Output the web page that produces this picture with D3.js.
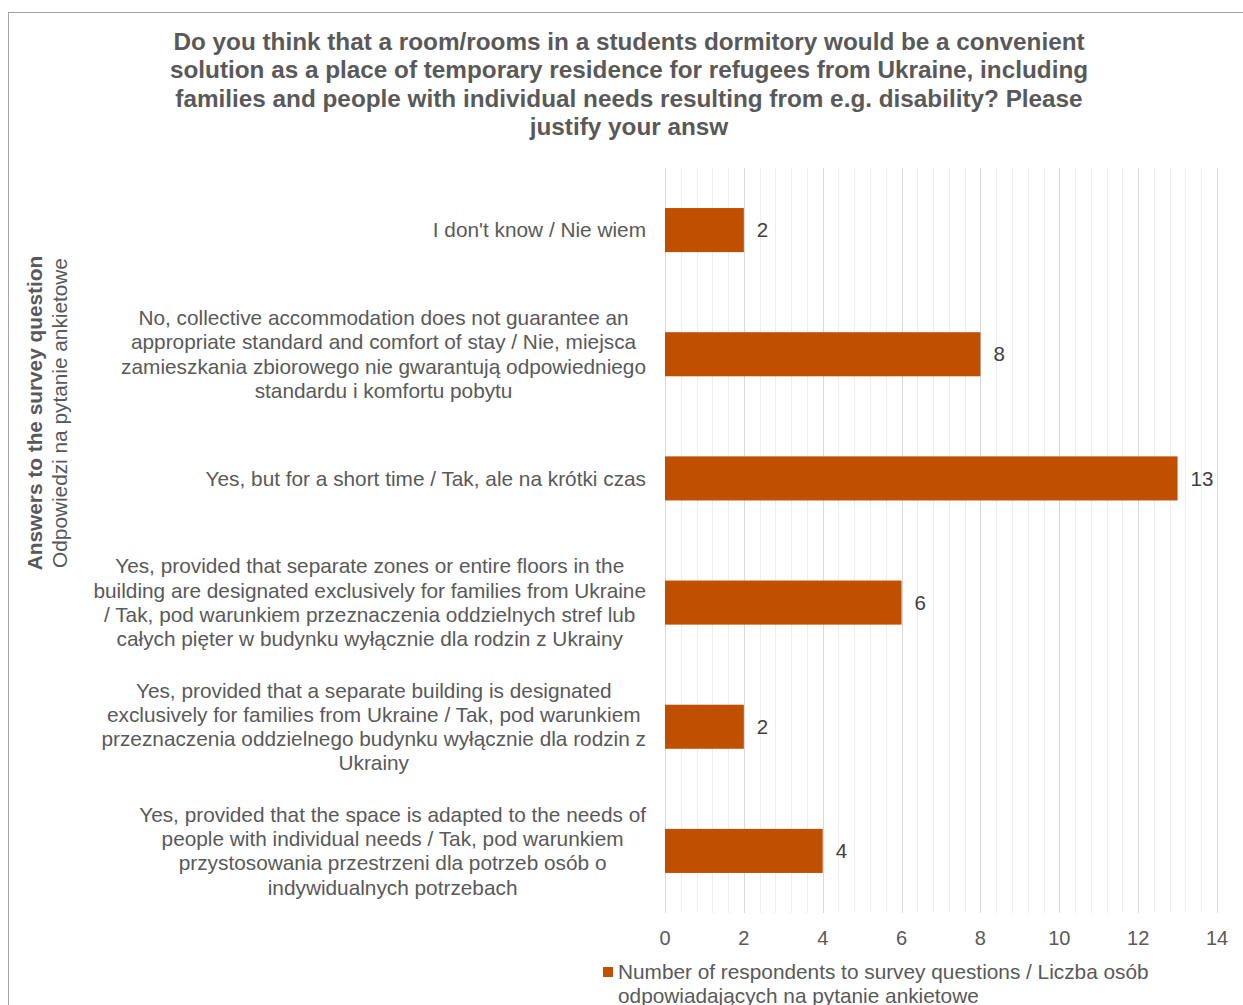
<!DOCTYPE html>
<html><head><meta charset="utf-8">
<script src="https://cdn.jsdelivr.net/npm/d3@7"></script>
<style>body{margin:0;background:#fff;} svg{display:block;font-family:"Liberation Sans",Arial,sans-serif;}</style>
</head><body>
<script>
const titleLines = [
  "Do you think that a room/rooms in a students dormitory would be a convenient",
  "solution as a place of temporary residence for refugees from Ukraine, including",
  "families and people with individual needs resulting from e.g. disability? Please",
  "justify your answ"
];
const categories = [
  ["I don't know / Nie wiem"],
  ["No, collective accommodation does not guarantee an", "appropriate standard and comfort of stay / Nie, miejsca", "zamieszkania zbiorowego nie gwarantują odpowiedniego", "standardu i komfortu pobytu"],
  ["Yes, but for a short time / Tak, ale na krótki czas"],
  ["Yes, provided that separate zones or entire floors in the", "building are designated exclusively for families from Ukraine", "/ Tak, pod warunkiem przeznaczenia oddzielnych stref lub", "całych pięter w budynku wyłącznie dla rodzin z Ukrainy"],
  ["Yes, provided that a separate building is designated", "exclusively for families from Ukraine / Tak, pod warunkiem", "przeznaczenia oddzielnego budynku wyłącznie dla rodzin z", "Ukrainy"],
  ["Yes, provided that the space is adapted to the needs of", "people with individual needs / Tak, pod warunkiem", "przystosowania przestrzeni dla potrzeb osób o", "indywidualnych potrzebach"]
];
const values = [2, 8, 13, 6, 2, 4];
const xTicks = [0, 2, 4, 6, 8, 10, 12, 14];
const yTitleLines = ["Answers to the survey question", "Odpowiedzi na pytanie ankietowe"];
const legendLines = ["Number of respondents to survey questions / Liczba osób", "odpowiadających na pytanie ankietowe"];

const W = 1243, H = 1005;
const svg = d3.select("body").append("svg").attr("width", W).attr("height", H);
svg.append("rect").attr("x", 8.5).attr("y", 12.5).attr("width", W).attr("height", H)
  .attr("fill", "#fff").attr("stroke", "#a6a6a6").attr("stroke-width", 1);

const m = {left: 665, right: 1217, top: 168, bottom: 913};
const x = d3.scaleLinear().domain([0, 14]).range([m.left, m.right]);
const y = d3.scaleBand().domain(d3.range(categories.length)).range([m.top, m.bottom]).paddingInner(0.645).paddingOuter(0.3225);

// minor gridlines
const minor = d3.range(0, 14.0001, 0.4).filter(v => Math.abs(v/2 - Math.round(v/2)) > 1e-6);
svg.append("g").selectAll("line").data(minor).join("line")
  .attr("x1", d => Math.round(x(d)) + 0.5).attr("x2", d => Math.round(x(d)) + 0.5)
  .attr("y1", m.top).attr("y2", m.bottom)
  .attr("stroke", "#ededed").attr("stroke-width", 1);
svg.append("g").selectAll("line").data(xTicks).join("line")
  .attr("x1", d => Math.round(x(d)) + 0.5).attr("x2", d => Math.round(x(d)) + 0.5)
  .attr("y1", m.top).attr("y2", m.bottom)
  .attr("stroke", "#d9d9d9").attr("stroke-width", 1);

// bars
svg.append("g").selectAll("rect").data(values).join("rect")
  .attr("x", x(0)).attr("y", (d, i) => y(i)).attr("width", d => x(d) - x(0)).attr("height", y.bandwidth())
  .attr("fill", "#c05000");

// value labels
svg.append("g").selectAll("text").data(values).join("text")
  .attr("x", d => x(d) + 13).attr("y", (d, i) => y(i) + y.bandwidth()/2).attr("dy", "0.35em")
  .attr("font-size", 20.5).attr("fill", "#404040").text(d => d);

// x tick labels
svg.append("g").selectAll("text").data(xTicks).join("text")
  .attr("x", d => x(d)).attr("y", 938).attr("dy", "0.35em").attr("text-anchor", "middle")
  .attr("font-size", 20).attr("fill", "#595959").text(d => d);

// category labels
const lh = 24.3;
categories.forEach((lines, i) => {
  const g = svg.append("g");
  const cy = y(i) + y.bandwidth()/2;
  const t = g.selectAll("text").data(lines).join("text")
    .attr("y", (d, j) => cy + (j - (lines.length - 1)/2) * lh).attr("dy", "0.35em")
    .attr("font-size", 20.8).attr("fill", "#595959").attr("text-anchor", "middle").text(d => d);
  let maxW = 0;
  t.each(function(){ maxW = Math.max(maxW, this.getComputedTextLength()); });
  t.attr("x", 646 - maxW/2);
});

// title
svg.append("g").selectAll("text").data(titleLines).join("text")
  .attr("x", 629).attr("y", (d, i) => 41 + i * 28.5).attr("dy", "0.35em").attr("text-anchor", "middle")
  .attr("font-size", 24.3).attr("font-weight", "bold").attr("fill", "#595959").text(d => d);

// y title
const yt = svg.append("g").attr("transform", "translate(35,413) rotate(-90)");
yt.append("text").attr("x", 0).attr("y", 0).attr("dy", "0.35em").attr("text-anchor", "middle")
  .attr("font-size", 20.8).attr("font-weight", "bold").attr("fill", "#595959").text(yTitleLines[0]);
yt.append("text").attr("x", 0).attr("y", 25).attr("dy", "0.35em").attr("text-anchor", "middle")
  .attr("font-size", 20.8).attr("fill", "#595959").text(yTitleLines[1]);

// legend
svg.append("rect").attr("x", 603).attr("y", 967).attr("width", 10).attr("height", 10).attr("fill", "#c05000");
svg.append("g").selectAll("text").data(legendLines).join("text")
  .attr("x", 618).attr("y", (d, i) => 972 + i * 24).attr("dy", "0.35em")
  .attr("font-size", 20.8).attr("fill", "#595959").text(d => d);
</script>
</body></html>
